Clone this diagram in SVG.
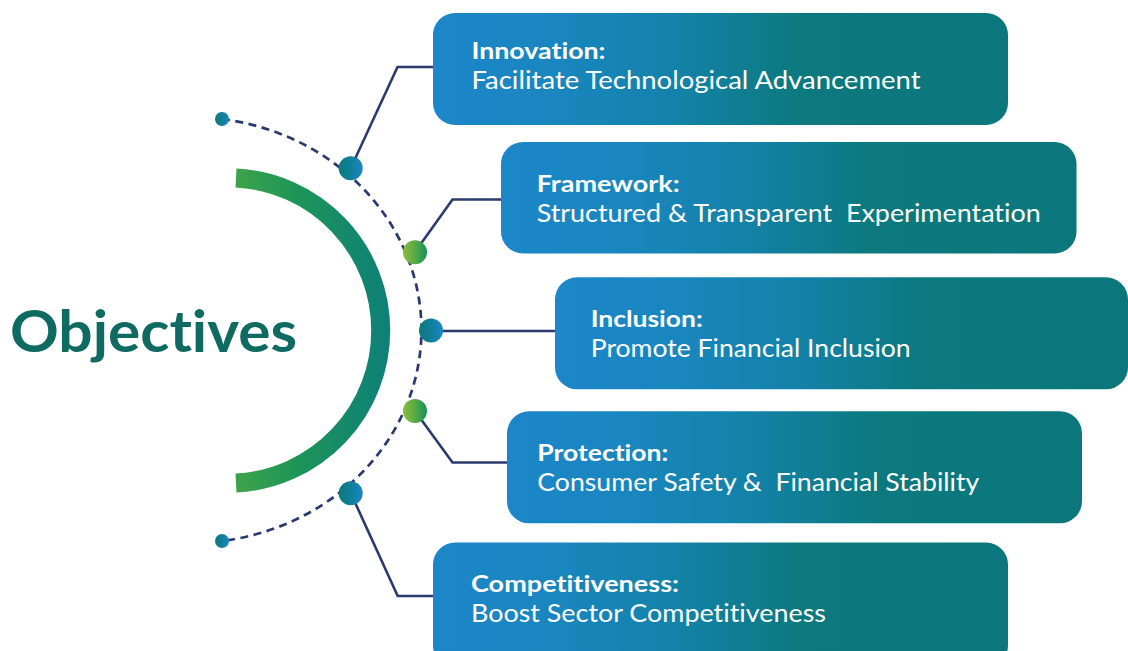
<svg xmlns="http://www.w3.org/2000/svg" width="1128" height="651" viewBox="0 0 1128 651">
  <style>
    text { font-variant-ligatures: none; font-feature-settings: "liga" 0, "dlig" 0; }
    .box { fill: url(#boxFill); }
    .title { font-family: Lato, "Open Sans", "Liberation Sans", sans-serif; font-weight: 700; font-size: 23px; fill: #ffffff; }
    .body { font-family: Lato, "Open Sans", "Liberation Sans", sans-serif; font-weight: 400; font-size: 24.5px; fill: #ffffff; }
    .link { fill: none; stroke: #2B3A6E; stroke-width: 2.6; stroke-linejoin: miter; }
    .orbit { fill: none; stroke: #2B3A6E; stroke-width: 2.7; stroke-dasharray: 8 5.5; }
    .dot-blue { fill: url(#dotBlue); }
    .dot-green { fill: url(#dotGreen); }
    .heading { font-family: Lato, "Open Sans", "Liberation Sans", sans-serif; font-weight: 700; font-size: 58px; fill: #0F6A61; }
  </style>
  <defs>
    <linearGradient id="boxFill" x1="0" y1="0" x2="1" y2="0">
      <stop offset="0" stop-color="#1C86C8"/>
      <stop offset="0.2" stop-color="#1A86C0"/>
      <stop offset="0.42" stop-color="#1382A9"/>
      <stop offset="0.64" stop-color="#0B797E"/>
      <stop offset="1" stop-color="#0B777C"/>
    </linearGradient>
    <linearGradient id="dotBlue" x1="0" y1="0" x2="1" y2="0">
      <stop offset="0" stop-color="#0C7A7C"/>
      <stop offset="0.5" stop-color="#107F9A"/>
      <stop offset="1" stop-color="#1C86C8"/>
    </linearGradient>
    <linearGradient id="dotGreen" x1="0" y1="0" x2="1" y2="0">
      <stop offset="0" stop-color="#8EBC3B"/>
      <stop offset="0.5" stop-color="#56AA46"/>
      <stop offset="1" stop-color="#17925C"/>
    </linearGradient>
    <linearGradient id="arcFill" gradientUnits="userSpaceOnUse" x1="236" y1="0" x2="390" y2="0">
      <stop offset="0" stop-color="#3DA34A"/>
      <stop offset="0.4" stop-color="#1C9558"/>
      <stop offset="1" stop-color="#0E7F78"/>
    </linearGradient>
  </defs>

  <!-- central heading and its bracket arc -->
  <g id="hub">
    <path d="M236,178 A152.7,152.7 0 0 1 380.7,330.5 A152.7,152.7 0 0 1 236,483" fill="none" stroke="url(#arcFill)" stroke-width="19"/>
    <text class="heading" x="10" y="352" textLength="287" lengthAdjust="spacingAndGlyphs">Objectives</text>
  </g>

  <!-- dashed orbit, link lines and junction dots -->
  <g id="connectors">
    <path class="orbit" d="M222,119 A231,213 0 0 1 222,541"/>
    <polyline class="link" points="350.7,168.3 397.5,67 434,67"/>
    <polyline class="link" points="415,252 452.5,199.5 502,199.5"/>
    <polyline class="link" points="431,331 556,331"/>
    <polyline class="link" points="415,411 452.5,462.5 508,462.5"/>
    <polyline class="link" points="350.7,493 397.7,596 434,596"/>
    <circle class="dot-blue" cx="222" cy="119" r="7"/>
    <circle class="dot-blue" cx="222" cy="541" r="7"/>
    <circle class="dot-blue" cx="350.7" cy="168.3" r="12"/>
    <circle class="dot-green" cx="415" cy="252.3" r="12"/>
    <circle class="dot-blue" cx="431" cy="330.5" r="12"/>
    <circle class="dot-green" cx="415" cy="411" r="12"/>
    <circle class="dot-blue" cx="350.7" cy="493.3" r="12"/>
  </g>

  <g id="innovation">
    <rect class="box" x="433" y="13" width="575" height="112" rx="22"/>
    <text class="title" x="471.5" y="59.3" textLength="134" lengthAdjust="spacingAndGlyphs">Innovation:</text>
    <text class="body" x="471.5" y="89.3" textLength="449" lengthAdjust="spacingAndGlyphs">Facilitate Technological Advancement</text>
  </g>

  <g id="framework">
    <rect class="box" x="501" y="142" width="575.5" height="111.5" rx="22"/>
    <text class="title" x="536.7" y="191.7" textLength="143" lengthAdjust="spacingAndGlyphs">Framework:</text>
    <text class="body" x="536.7" y="222.3" textLength="504" lengthAdjust="spacingAndGlyphs" xml:space="preserve">Structured &amp; Transparent  Experimentation</text>
  </g>

  <g id="inclusion">
    <rect class="box" x="555" y="277.3" width="573" height="112" rx="22"/>
    <text class="title" x="590.7" y="326.7" textLength="112" lengthAdjust="spacingAndGlyphs">Inclusion:</text>
    <text class="body" x="590.7" y="356.7" textLength="320" lengthAdjust="spacingAndGlyphs">Promote Financial Inclusion</text>
  </g>

  <g id="protection">
    <rect class="box" x="507" y="411.3" width="575" height="112" rx="22"/>
    <text class="title" x="537.3" y="461" textLength="131" lengthAdjust="spacingAndGlyphs">Protection:</text>
    <text class="body" x="537.3" y="491" textLength="442" lengthAdjust="spacingAndGlyphs" xml:space="preserve">Consumer Safety &amp;  Financial Stability</text>
  </g>

  <g id="competitiveness">
    <rect class="box" x="433" y="542.5" width="575" height="125" rx="22"/>
    <text class="title" x="471" y="591.7" textLength="208" lengthAdjust="spacingAndGlyphs">Competitiveness:</text>
    <text class="body" x="471" y="622" textLength="355" lengthAdjust="spacingAndGlyphs">Boost Sector Competitiveness</text>
  </g>
</svg>
